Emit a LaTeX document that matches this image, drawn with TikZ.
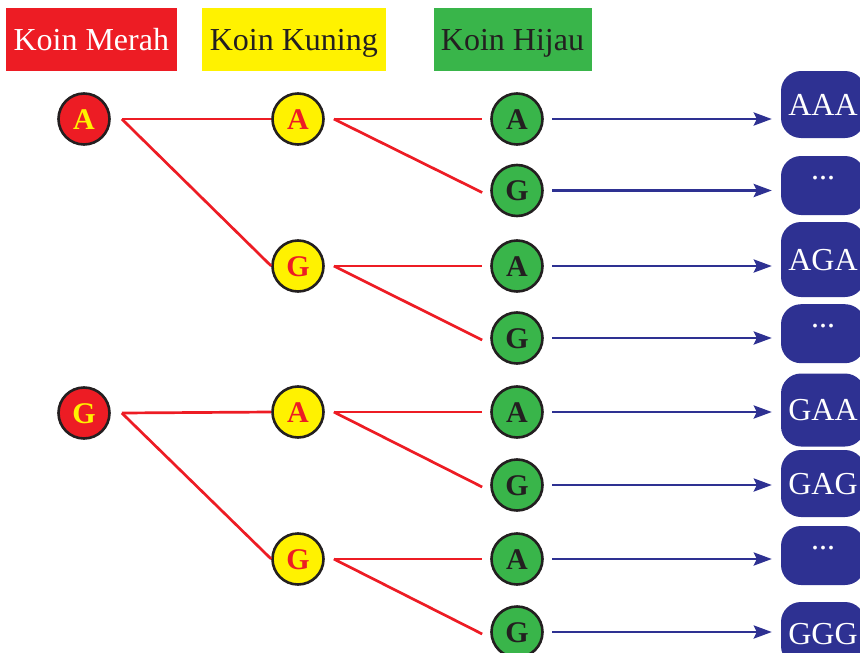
\documentclass[tikz,border=0pt]{standalone}
\usepackage{fontspec}
\setmainfont{Liberation Serif}
\usetikzlibrary{arrows.meta}
\definecolor{cred}{HTML}{ED1C24}
\definecolor{cyellow}{HTML}{FFF200}
\definecolor{cgreen}{HTML}{39B54A}
\definecolor{cblue}{HTML}{2E3192}
\definecolor{cdark}{HTML}{231F20}
\begin{document}
\begin{tikzpicture}[x=1pt,y=-1pt,
  hdr/.style={minimum height=63pt, inner sep=0pt, text height=21.3pt, text depth=0pt, font=\fontsize{32}{32}\selectfont},
  coin/.style={circle, draw=cdark, line width=2.6pt, minimum size=51pt, inner sep=0pt, font=\fontsize{30}{30}\selectfont\bfseries, text height=20.5pt, text depth=0pt},
  redcoin/.style={coin, fill=cred, text=cyellow},
  yelcoin/.style={coin, fill=cyellow, text=cred},
  grncoin/.style={coin, fill=cgreen, text=cdark},
  res/.style={fill=cblue, rounded corners=20pt, minimum width=84pt, inner sep=0pt, text=white, font=\fontsize{32}{32}\selectfont, text height=21.3pt, text depth=0pt},
  rl/.style={cred, line width=2.7pt},
  arr/.style={cblue, line width=2.7pt, shorten <=8.5pt, shorten >=9pt, -{Stealth[length=18pt,width=13pt,inset=3pt]}}
]
\useasboundingbox (0,0) rectangle (860,653);
% headers
\node[hdr, fill=cred, text=white, minimum width=171pt] (h1) at (91.3,39.5) {Koin Merah};
\node[hdr, fill=cyellow, text=cdark, minimum width=184pt] (h2) at (293.8,39.5) {Koin Kuning};
\node[hdr, fill=cgreen, text=cdark, minimum width=158pt] (h3) at (512.5,39.5) {Koin Hijau};
% red coins
\node[redcoin] (m1) at (84,119) {A};
\node[redcoin] (m2) at (84,413) {G};
% yellow coins
\node[yelcoin] (k1) at (298,119) {A};
\node[yelcoin] (k2) at (298,266) {G};
\node[yelcoin] (k3) at (298,412) {A};
\node[yelcoin] (k4) at (298,559) {G};
% green coins
\node[grncoin] (g1) at (517,119) {A};
\node[grncoin] (g2) at (517,190.5) {G};
\node[grncoin] (g3) at (517,266) {A};
\node[grncoin] (g4) at (517,338) {G};
\node[grncoin] (g5) at (517,412) {A};
\node[grncoin] (g6) at (517,485) {G};
\node[grncoin] (g7) at (517,559) {A};
\node[grncoin] (g8) at (517,632) {G};
% results (clipped at right edge)
\begin{scope}
\clip (0,0) rectangle (860,653);
\node[res, minimum height=67pt] (r1) at (823,104.5) {AAA};
\node[res, minimum height=59pt] (r2) at (823,185.5) {\raisebox{16.5pt}{...}};
\node[res, minimum height=75pt] (r3) at (823,259.5) {AGA};
\node[res, minimum height=59pt] (r4) at (823,333.7) {\raisebox{16.5pt}{...}};
\node[res, minimum height=73pt] (r5) at (823,410) {GAA};
\node[res, minimum height=67pt] (r6) at (823,483.5) {GAG};
\node[res, minimum height=59pt] (r7) at (823,555.5) {\raisebox{16.5pt}{...}};
\node[res, minimum height=64pt] (r8) at (823,634) {GGG};
\end{scope}
% start points of the red connectors
\coordinate (m1o) at ([xshift=11pt]m1.east);
\coordinate (m2o) at ([xshift=11pt]m2.east);
\coordinate (k1o) at ([xshift=9pt]k1.east);
\coordinate (k2o) at ([xshift=9pt]k2.east);
\coordinate (k3o) at ([xshift=9pt]k3.east);
\coordinate (k4o) at ([xshift=9pt]k4.east);
% red connectors
\draw[rl] (m1o) -- (k1.west);
\draw[rl] (m1o) -- (k2.west);
\draw[rl] (m2o) -- (k3.west);
\draw[rl] (m2o) -- (k4.west);
\draw[rl] (k1o) -- ([xshift=-8.5pt]g1.west);
\draw[rl] (k1o) -- ([xshift=-8pt,yshift=-2pt]g2.west);
\draw[rl] (k2o) -- ([xshift=-8.5pt]g3.west);
\draw[rl] (k2o) -- ([xshift=-8pt,yshift=-2pt]g4.west);
\draw[rl] (k3o) -- ([xshift=-8.5pt]g5.west);
\draw[rl] (k3o) -- ([xshift=-8pt,yshift=-2pt]g6.west);
\draw[rl] (k4o) -- ([xshift=-8.5pt]g7.west);
\draw[rl] (k4o) -- ([xshift=-8pt,yshift=-2pt]g8.west);
% blue arrows
\draw[arr] (g1.east) -- (g1.east -| r1.west);
\draw[arr] (g2.east) -- (g2.east -| r2.west);
\draw[arr] (g3.east) -- (g3.east -| r3.west);
\draw[arr] (g4.east) -- (g4.east -| r4.west);
\draw[arr] (g5.east) -- (g5.east -| r5.west);
\draw[arr] (g6.east) -- (g6.east -| r6.west);
\draw[arr] (g7.east) -- (g7.east -| r7.west);
\draw[arr] (g8.east) -- (g8.east -| r8.west);
\end{tikzpicture}
\end{document}
